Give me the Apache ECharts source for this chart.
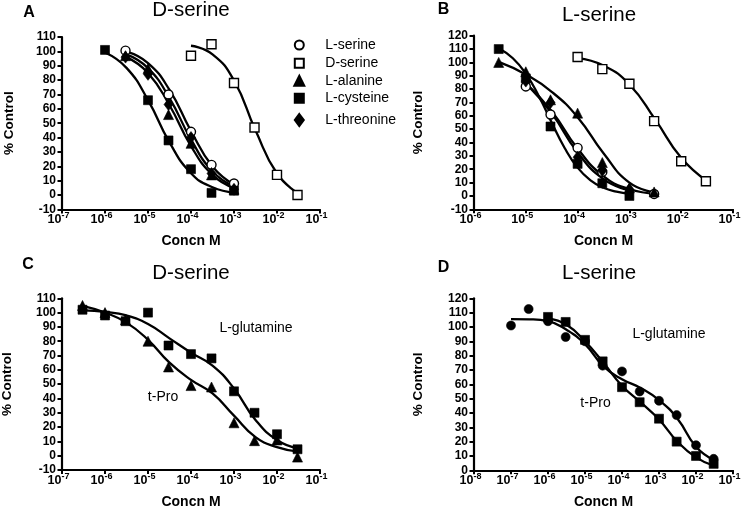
<!DOCTYPE html>
<html><head><meta charset="utf-8">
<script src="https://cdn.jsdelivr.net/npm/echarts@6/dist/echarts.min.js"></script>
<style>html,body{margin:0;padding:0;background:#fff}#c{width:742px;height:509px}</style>
</head><body><div id="c"></div><script>
// ---------- Panel A : D-serine (measured points) ----------
const A_Lser_x = [3e-6, 3e-5, 1e-4, 3e-4, 1e-3];
const A_Lser_y = [100.5, 70, 44, 21, 8];
const A_Dser_x = [1e-4, 3e-4, 1e-3, 3e-3, 1e-2, 3e-2];
const A_Dser_y = [97, 105, 78, 47, 14, 0];
const A_Lala_x = [3e-6, 1e-5, 3e-5, 1e-4, 3e-4, 1e-3];
const A_Lala_y = [97, 88, 56, 36, 14, 4];
const A_Lcys_x = [1e-6, 1e-5, 3e-5, 1e-4, 3e-4, 1e-3];
const A_Lcys_y = [101, 66, 38, 18, 1.5, 3];
const A_Lthr_x = [3e-6, 1e-5, 3e-5, 1e-4, 3e-4, 1e-3];
const A_Lthr_y = [96, 84, 63, 40, 15, 4];
// Panel A fitted curves (log10 concentration, % control)
const A_Lser_fitLog = [-5.5, -5, -4.5, -4, -3.5, -3];
const A_Lser_fitY   = [99.8, 91.8, 73.2, 44.6, 19.9, 7.3];
const A_Dser_fitLog = [-4, -3.5, -3, -2.5, -2, -1.5];
const A_Dser_fitY   = [103.9, 97.9, 79.7, 45.1, 15, 1];
const A_Lala_fitLog = [-5.5, -5, -4.5, -4, -3.5, -3];
const A_Lala_fitY   = [96, 85, 62.5, 34.1, 14, 4.9];
const A_Lcys_fitLog = [-6, -5.5, -5, -4.5, -4, -3.5, -3];
const A_Lcys_fitY   = [99.2, 88.5, 66.1, 36.7, 15.2, 5.4, 1.75];
const A_Lthr_fitLog = [-5.5, -5, -4.5, -4, -3.5, -3];
const A_Lthr_fitY   = [97.9, 88.3, 67.5, 38.7, 16.5, 5.9];

// ---------- Panel B : L-serine ----------
const B_Lser_x = [1e-5, 3e-5, 1e-4, 3e-4, 3e-3];
const B_Lser_y = [82, 61, 36, 18, 1.5];
const B_Dser_x = [1e-4, 3e-4, 1e-3, 3e-3, 1e-2, 3e-2];
const B_Dser_y = [104, 95, 84, 56, 26, 11];
const B_Lala_x = [3e-6, 1e-5, 3e-5, 1e-4, 3e-4, 1e-3, 3e-3];
const B_Lala_y = [100, 93, 72, 62, 25, 6, 3];
const B_Lcys_x = [3e-6, 1e-5, 3e-5, 1e-4, 3e-4, 1e-3];
const B_Lcys_y = [110, 88, 52, 24, 9.5, 0];
const B_Lthr_x = [1e-5, 3e-5, 1e-4, 3e-4, 1e-3];
const B_Lthr_y = [86, 70, 29, 19, 5];
const B_Lser_fitLog = [-5, -4.5, -4, -3.5, -3, -2.5];
const B_Lser_fitY   = [84.6, 63.5, 35.5, 14.8, 5.2, 1.7];
const B_Dser_fitLog = [-4, -3.5, -3, -2.5, -2, -1.5];
const B_Dser_fitY   = [103.2, 97.6, 83.5, 57.1, 28.6, 11.1];
const B_Lala_fitLog = [-5.5, -5, -4.5, -4, -3.5, -3, -2.5];
const B_Lala_fitY   = [100, 91, 78, 59, 32, 10, 2.5];
const B_Lcys_fitLog = [-5.5, -5.25, -5, -4.75, -4.5, -4.25, -4, -3.75, -3.5, -3.25, -3];
const B_Lcys_fitY   = [110, 103.1, 91.6, 74.9, 54.9, 35.9, 21.2, 11.7, 6.1, 3.2, 1.6];
const B_Lthr_fitLog = [-5, -4.5, -4, -3.5, -3];
const B_Lthr_fitY   = [84.5, 61.9, 32.6, 12.6, 4.1];

// ---------- Panel C : D-serine ----------
const C_x      = [3e-7, 1e-6, 3e-6, 1e-5, 3e-5, 1e-4, 3e-4, 1e-3, 3e-3, 1e-2, 3e-2];
const C_Gln_y  = [102, 98, 94, 100, 77, 71, 68, 45, 30, 15, 4.5];
const C_tPro_y = [105, 100, 95, 80, 62, 49, 48, 23, 10.5, 11, -1];
const C_fitLog    = [-6.5, -6, -5.5, -5, -4.5, -4, -3.5, -3, -2.5, -2, -1.5];
const C_Gln_fitY  = [101.5, 100.5, 98, 92, 82, 72, 63, 47, 25, 11, 5];
const C_tPro_fitY = [104.5, 100, 93, 81, 65, 53, 43.5, 28, 13, 6, 2.8];

// ---------- Panel D : L-serine ----------
const D_Gln_x  = [1e-7, 3e-7, 1e-6, 3e-6, 1e-5, 3e-5, 1e-4, 3e-4, 1e-3, 3e-3, 1e-2, 3e-2];
const D_Gln_y  = [101, 112.5, 104, 93, 90, 73, 69, 55, 48.5, 38.5, 17.5, 8];
const D_tPro_x = [1e-6, 3e-6, 1e-5, 3e-5, 1e-4, 3e-4, 1e-3, 3e-3, 1e-2, 3e-2];
const D_tPro_y = [107, 103.5, 91, 76, 58, 47.5, 36, 20, 10, 4.5];
const D_Gln_fitLog  = [-7, -6.5, -6, -5.5, -5, -4.5, -4, -3.5, -3, -2.5, -2, -1.5];
const D_Gln_fitY    = [105.5, 105.3, 104, 98, 88, 72.5, 63.5, 57.5, 49, 36, 16.5, 7];
const D_tPro_fitLog = [-6, -5.5, -5, -4.5, -4, -3.5, -3, -2.5, -2, -1.5];
const D_tPro_fitY   = [106, 101.5, 90, 75, 59, 47.5, 35.5, 20, 9, 3];

const LEGEND_NAMES = ['L-serine', 'D-serine', 'L-alanine', 'L-cysteine', 'L-threonine'];
const TITLES = ['D-serine', 'L-serine', 'D-serine', 'L-serine'];
const PANEL_LETTERS = ['A', 'B', 'C', 'D'];

// ---------------------------------------------------------------
const FONT = '"Liberation Sans", Arial, Helvetica, sans-serif';
const pairs = (xs, ys) => xs.map((x, i) => [x, ys[i]]);
const fit = (ls, ys) => ls.map((l, i) => [Math.pow(10, l), ys[i]]);

const SYM = {
  'L-serine':    {symbol: 'circle',   w: 9,  h: 9,  fill: '#fff', bw: 1.4},
  'D-serine':    {symbol: 'rect',     w: 9,  h: 9,  fill: '#fff', bw: 1.4},
  'L-alanine':   {symbol: 'triangle', w: 10, h: 10, fill: '#000', bw: 0.6},
  'L-cysteine':  {symbol: 'rect',     w: 9,  h: 9,  fill: '#000', bw: 0.6},
  'L-threonine': {symbol: 'diamond',  w: 9,  h: 12, fill: '#000', bw: 0.6},
  'filledCircle':{symbol: 'circle',   w: 9,  h: 9,  fill: '#000', bw: 0.6}
};

function scatter(name, gi, data, key) {
  const s = SYM[key || name];
  return {type: 'scatter', name, xAxisIndex: gi, yAxisIndex: gi, data,
    symbol: s.symbol, symbolSize: [s.w, s.h], z: 5, silent: true,
    itemStyle: {color: s.fill, borderColor: '#000', borderWidth: s.bw, opacity: 1}};
}
function curve(name, gi, data) {
  return {type: 'line', name, xAxisIndex: gi, yAxisIndex: gi, data, smooth: 0.5,
    symbol: 'none', showSymbol: false, silent: true, z: 3,
    lineStyle: {color: '#000', width: 2.3}};
}

const grids = [
  {left: 62,  top: 37,    width: 258, height: 172.4},
  {left: 474, top: 35.7,  width: 259, height: 173.6},
  {left: 62,  top: 298.3, width: 258, height: 171.7},
  {left: 474, top: 298.3, width: 259, height: 172}
].map(g => Object.assign(g, {containLabel: false, outerBoundsMode: 'none'}));

const xRanges = [[1e-7, 1e-1], [1e-6, 1e-1], [1e-7, 1e-1], [1e-8, 1e-1]];
const yRanges = [[-10, 110], [-10, 120], [-10, 110], [0, 120]];
const yNameGaps = [46, 49, 48, 49];

const xAxes = xRanges.map((r, i) => ({
  type: 'log', logBase: 10, gridIndex: i, min: r[0], max: r[1], splitNumber: 10,
  axisLine: {show: true, onZero: false, lineStyle: {color: '#000', width: 2.2}},
  axisTick: {show: true, length: 4, lineStyle: {color: '#000', width: 2}},
  minorTick: {show: false}, splitLine: {show: false},
  axisLabel: {
    margin: 2, color: '#000', padding: [0, 7, 0, 0],
    formatter: v => '{b|10}{s|' + Math.round(Math.log10(v)) + '}',
    rich: {
      b: {fontSize: 12.5, fontWeight: 'bold', fontFamily: FONT, color: '#000', lineHeight: 13, padding: [2, 0, 0, 0], verticalAlign: 'top'},
      s: {fontSize: 9, fontWeight: 'bold', fontFamily: FONT, color: '#000', lineHeight: 9, verticalAlign: 'top'}
    }
  },
  name: 'Concn M', nameLocation: 'middle', nameGap: 25,
  nameTextStyle: {fontSize: 14, fontWeight: 'bold', fontFamily: FONT, color: '#000'}
}));

const yAxes = yRanges.map((r, i) => ({
  type: 'value', gridIndex: i, min: r[0], max: r[1], interval: 10,
  axisLine: {show: true, onZero: false, lineStyle: {color: '#000', width: 2.2}},
  axisTick: {show: true, length: 4.5, lineStyle: {color: '#000', width: 2}},
  splitLine: {show: false},
  axisLabel: {margin: 6, color: '#000', fontSize: 12, fontWeight: 'bold', fontFamily: FONT},
  name: '% Control', nameLocation: 'middle', nameRotate: 90, nameGap: yNameGaps[i],
  nameTextStyle: {fontSize: 13.5, fontWeight: 'bold', fontFamily: FONT, color: '#000'}
}));

const series = [
  // panel A (scatter first so legend picks them)
  scatter('L-serine', 0, pairs(A_Lser_x, A_Lser_y)),
  scatter('D-serine', 0, pairs(A_Dser_x, A_Dser_y)),
  scatter('L-alanine', 0, pairs(A_Lala_x, A_Lala_y)),
  scatter('L-cysteine', 0, pairs(A_Lcys_x, A_Lcys_y)),
  scatter('L-threonine', 0, pairs(A_Lthr_x, A_Lthr_y)),
  curve('A fit L-serine', 0, fit(A_Lser_fitLog, A_Lser_fitY)),
  curve('A fit D-serine', 0, fit(A_Dser_fitLog, A_Dser_fitY)),
  curve('A fit L-alanine', 0, fit(A_Lala_fitLog, A_Lala_fitY)),
  curve('A fit L-cysteine', 0, fit(A_Lcys_fitLog, A_Lcys_fitY)),
  curve('A fit L-threonine', 0, fit(A_Lthr_fitLog, A_Lthr_fitY)),
  // panel B
  scatter('B L-serine', 1, pairs(B_Lser_x, B_Lser_y), 'L-serine'),
  scatter('B D-serine', 1, pairs(B_Dser_x, B_Dser_y), 'D-serine'),
  scatter('B L-alanine', 1, pairs(B_Lala_x, B_Lala_y), 'L-alanine'),
  scatter('B L-cysteine', 1, pairs(B_Lcys_x, B_Lcys_y), 'L-cysteine'),
  scatter('B L-threonine', 1, pairs(B_Lthr_x, B_Lthr_y), 'L-threonine'),
  curve('B fit L-serine', 1, fit(B_Lser_fitLog, B_Lser_fitY)),
  curve('B fit D-serine', 1, fit(B_Dser_fitLog, B_Dser_fitY)),
  curve('B fit L-alanine', 1, fit(B_Lala_fitLog, B_Lala_fitY)),
  curve('B fit L-cysteine', 1, fit(B_Lcys_fitLog, B_Lcys_fitY)),
  curve('B fit L-threonine', 1, fit(B_Lthr_fitLog, B_Lthr_fitY)),
  // panel C
  scatter('C L-glutamine', 2, pairs(C_x, C_Gln_y), 'L-cysteine'),
  scatter('C t-Pro', 2, pairs(C_x, C_tPro_y), 'L-alanine'),
  curve('C fit L-glutamine', 2, fit(C_fitLog, C_Gln_fitY)),
  curve('C fit t-Pro', 2, fit(C_fitLog, C_tPro_fitY)),
  // panel D
  scatter('D L-glutamine', 3, pairs(D_Gln_x, D_Gln_y), 'filledCircle'),
  scatter('D t-Pro', 3, pairs(D_tPro_x, D_tPro_y), 'L-cysteine'),
  curve('D fit L-glutamine', 3, fit(D_Gln_fitLog, D_Gln_fitY)),
  curve('D fit t-Pro', 3, fit(D_tPro_fitLog, D_tPro_fitY))
];

const legendRowY = [45, 63.3, 80.7, 98.3, 120];
const legends = LEGEND_NAMES.map((n, i) => {
  const s = SYM[n];
  const left = 298.3 - s.w / 2;
  const pad = 324.3 - (left + s.w + 5);
  return {
    data: [n], left: left, top: legendRowY[i] - 8, padding: 0, orient: 'vertical',
    itemWidth: s.w, itemHeight: s.h, selectedMode: false,
    formatter: name => '{a|' + name + '}',
    textStyle: {color: '#000', fontSize: 14, fontFamily: FONT, lineHeight: 16,
      rich: {a: {color: '#000', fontSize: 14, fontFamily: FONT, lineHeight: 16, padding: [0, 0, 0, pad]}}}
  };
});

function txt(text, x, y, size, weight) {
  return {type: 'text', x: x, y: y, silent: true, z: 10,
    style: {text: text, fill: '#000', fontSize: size, fontWeight: weight || 'normal', fontFamily: FONT,
      align: 'center', verticalAlign: 'middle', textAlign: 'center', textVerticalAlign: 'middle'}};
}
const titlePos = [[191, 10.5], [599, 15.5], [191, 273.5], [599, 273.5]];
const letterPos = [[29, 12.5], [443.5, 10], [28, 264.5], [443.5, 267.5]];
const graphics = [];
TITLES.forEach((t, i) => graphics.push(txt(t, titlePos[i][0], titlePos[i][1], 20.5)));
PANEL_LETTERS.forEach((t, i) => graphics.push(txt(t, letterPos[i][0], letterPos[i][1], 16, 'bold')));
graphics.push(txt('L-glutamine', 256, 328.5, 14));
graphics.push(txt('t-Pro', 163, 397, 14));
graphics.push(txt('L-glutamine', 669, 334, 14));
graphics.push(txt('t-Pro', 595.5, 403, 14));

const chart = echarts.init(document.getElementById('c'), null, {renderer: 'canvas'});
chart.setOption({
  animation: false,
  backgroundColor: '#fff',
  grid: grids,
  xAxis: xAxes,
  yAxis: yAxes,
  legend: legends,
  series: series,
  graphic: {elements: graphics}
});
</script></body></html>
